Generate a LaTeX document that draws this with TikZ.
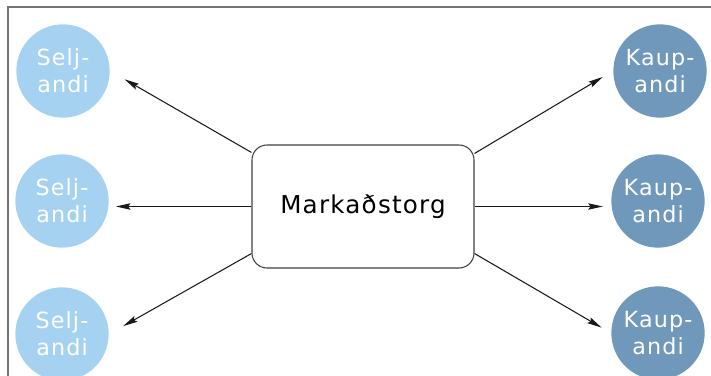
\documentclass[tikz,border=0pt]{standalone}
\usepackage{fontspec}
\setmainfont{DejaVu Sans}[LetterSpace=5]
\usetikzlibrary{arrows.meta}
\definecolor{seljblau}{HTML}{A6D2F1}
\definecolor{kaupblau}{HTML}{6F98BA}
\begin{document}
\begin{tikzpicture}[%
	    x=0.03cm, y=-0.03cm,
	    ->,
	    >={Stealth[length=12.5pt,width=5.5pt,inset=2pt]},
	    line width=0.9pt,
	    seller/.style={circle, fill=seljblau, text=white, inner sep=0pt,
	      minimum size=2.8cm, align=center, font=\fontsize{19}{23}\selectfont},
	    buyer/.style={seller, fill=kaupblau},
	    market/.style={draw=black!75, rounded corners=0.45cm, minimum width=6.66cm,
	      minimum height=3.69cm, font=\fontsize{21}{25}\selectfont}
	  ]

	  \useasboundingbox (0,0) rectangle (711,376);
	  \draw[-, black!55, line width=1.5pt] (711,7) -- (8,7) -- (8,376);

	  %\tikzstyle{every node}=[draw]

	  \node[seller] (S1) at (63,71) {Selj-\\andi};
	  \node[seller] (S2) at (62,201) {Selj-\\andi};
	  \node[seller] (S3) at (62,334) {Selj-\\andi};
	  \node[buyer] (K1) at (660,71) {Kaup-\\andi};
	  \node[buyer] (K2) at (658,201) {Kaup-\\andi};
	  \node[buyer] (K3) at (658,333) {Kaup-\\andi};
	  \node[market] (Markad) at (363,206.5) {Markaðstorg};

	  \path[->, black!90]
	      ([yshift=-0.24cm]Markad.north west)
		  edge[shorten >=0.5cm] (S1.east)
	      (Markad.west)
		  edge[shorten >=0.2cm] (S2.east |- Markad.west)
	      ([yshift=0.45cm]Markad.south west)
		  edge[shorten >=0.48cm] (S3.east)
	      ([yshift=-0.27cm]Markad.north east)
		  edge[shorten >=0.35cm] (K1.west)
	      (Markad.east)
		  edge[shorten >=0.24cm] (K2.west |- Markad.east)
	      ([yshift=0.45cm]Markad.south east)
		  edge[shorten >=0.32cm] (K3.west);

\end{tikzpicture}
\end{document}
